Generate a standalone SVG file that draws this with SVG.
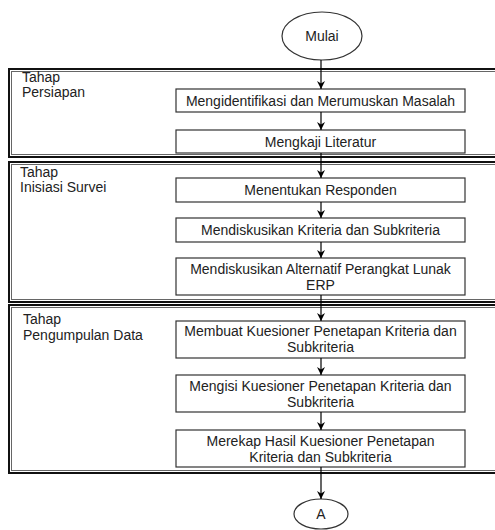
<svg xmlns="http://www.w3.org/2000/svg" width="495" height="530" viewBox="0 0 495 530">
<style>
text{font-family:"Liberation Sans",Arial,sans-serif;font-size:14px;fill:#222}
.c{text-anchor:middle}
.box{fill:#fff;stroke:#333;stroke-width:1.2}
.so{fill:#fff;stroke:#111;stroke-width:2}
.si{fill:none;stroke:#666;stroke-width:1}
.term{fill:#fff;stroke:#333;stroke-width:1.2}
.conn line{stroke:#000;stroke-width:1.2;marker-end:url(#ar)}
</style>
<defs>
<marker id="ar" viewBox="0 0 10 10" refX="10" refY="5" markerWidth="8" markerHeight="8" markerUnits="userSpaceOnUse" orient="auto">
<path d="M0,0 L10,5 L0,10 L3,5 z" fill="#000"/>
</marker>
</defs>
<g id="stage1">
<rect class="so" x="9" y="69" width="495" height="88"/>
<rect class="si" x="11.5" y="71.5" width="495" height="83"/>
<text x="22" y="82">Tahap</text>
<text x="22" y="97">Persiapan</text>
</g>
<g id="stage2">
<rect class="so" x="9" y="162" width="495" height="140"/>
<rect class="si" x="11.5" y="164.5" width="495" height="135"/>
<text x="20" y="177">Tahap</text>
<text x="20" y="192">Inisiasi Survei</text>
</g>
<g id="stage3">
<rect class="so" x="9" y="305" width="495" height="168"/>
<rect class="si" x="11.5" y="307.5" width="495" height="163"/>
<text x="23" y="324">Tahap</text>
<text x="23" y="340">Pengumpulan Data</text>
</g>
<g id="mulai">
<ellipse class="term" cx="322" cy="36" rx="40" ry="24"/>
<text class="c" x="322" y="41">Mulai</text>
</g>
<g id="n1"><rect class="box" x="176" y="89" width="289" height="23"/><text class="c" x="320.5" y="105.5">Mengidentifikasi dan Merumuskan Masalah</text></g>
<g id="n2"><rect class="box" x="176" y="130" width="289" height="23"/><text class="c" x="320.5" y="146.5">Mengkaji Literatur</text></g>
<g id="n3"><rect class="box" x="176" y="178" width="289" height="24"/><text class="c" x="320.5" y="195">Menentukan Responden</text></g>
<g id="n4"><rect class="box" x="176" y="218" width="289" height="24"/><text class="c" x="320.5" y="235">Mendiskusikan Kriteria dan Subkriteria</text></g>
<g id="n5"><rect class="box" x="176" y="258" width="289" height="37"/><text class="c" x="320.5" y="274">Mendiskusikan Alternatif Perangkat Lunak</text><text class="c" x="320.5" y="290">ERP</text></g>
<g id="n6"><rect class="box" x="176" y="321" width="289" height="37"/><text class="c" x="320.5" y="336">Membuat Kuesioner Penetapan Kriteria dan</text><text class="c" x="320.5" y="352">Subkriteria</text></g>
<g id="n7"><rect class="box" x="176" y="375" width="289" height="37"/><text class="c" x="320.5" y="391">Mengisi Kuesioner Penetapan Kriteria dan</text><text class="c" x="320.5" y="407">Subkriteria</text></g>
<g id="n8"><rect class="box" x="176" y="430" width="289" height="37"/><text class="c" x="320.5" y="446">Merekap Hasil Kuesioner Penetapan</text><text class="c" x="320.5" y="462">Kriteria dan Subkriteria</text></g>
<g id="a">
<ellipse class="term" cx="321" cy="514" rx="27" ry="15"/>
<text class="c" x="321" y="519">A</text>
</g>
<g class="conn" id="connectors">
<line x1="321" y1="60" x2="321" y2="89"/>
<line x1="321" y1="112" x2="321" y2="130"/>
<line x1="321" y1="153" x2="321" y2="178"/>
<line x1="321" y1="202" x2="321" y2="218"/>
<line x1="321" y1="242" x2="321" y2="258"/>
<line x1="321" y1="295" x2="321" y2="321"/>
<line x1="321" y1="358" x2="321" y2="375"/>
<line x1="321" y1="412" x2="321" y2="430"/>
<line x1="321" y1="467" x2="321" y2="499"/>
</g>
</svg>
